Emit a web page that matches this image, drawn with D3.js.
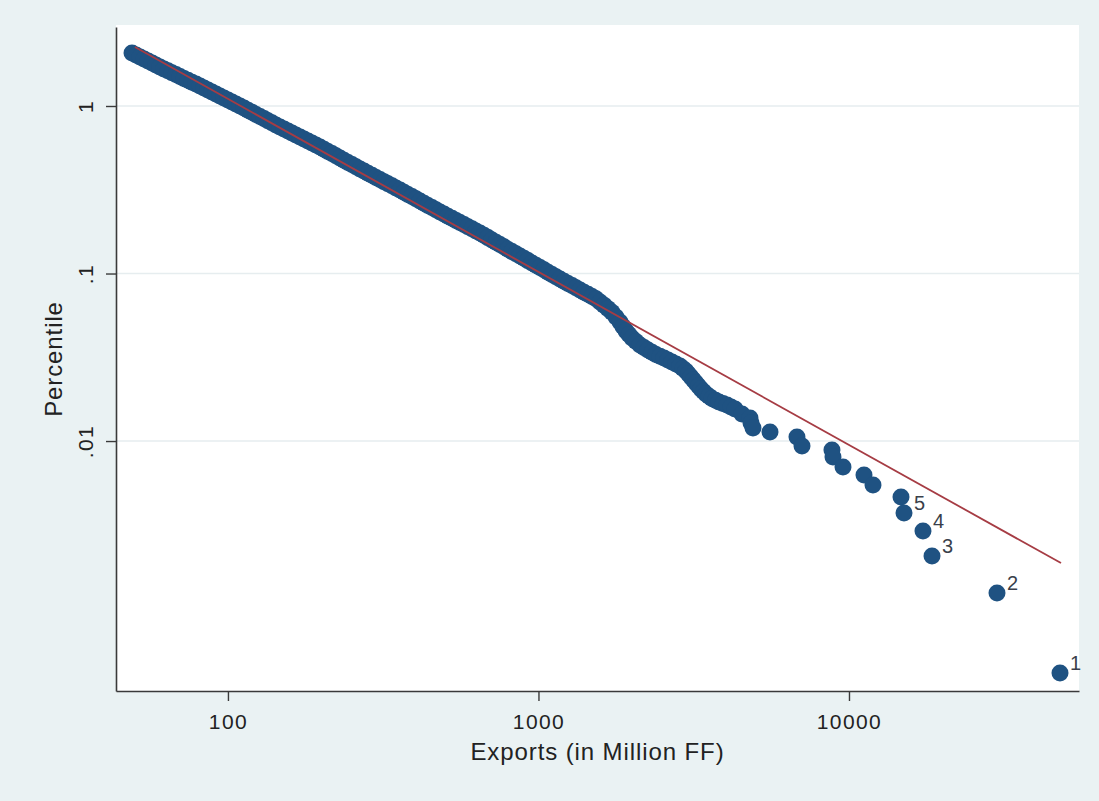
<!DOCTYPE html>
<html>
<head>
<meta charset="utf-8">
<script src="https://cdn.jsdelivr.net/npm/d3@7"></script>
<style>
  html, body { margin: 0; padding: 0; background: #eaf2f3; }
  svg { display: block; }
  text { font-family: "Liberation Sans", Arial, Helvetica, sans-serif; }
</style>
</head>
<body>
<svg id="chart" width="1099" height="801"></svg>
<script>
// Exports (million FF) and percentile of each plotted firm
const exportsX = [
  49.1, 50.58, 52.1, 53.67, 55.3, 56.96, 58.6, 60.36, 62.2, 64.07,
  66.0, 67.99, 70.05, 72.16, 74.3, 76.54, 78.9, 81.27, 83.7, 86.22,
  88.8, 91.47, 94.2, 97.04, 100, 103.0, 106.1, 109.3, 112.6, 116.0,
  119.5, 123.1, 126.8, 130.6, 134.5, 138.5, 142.7, 147.0, 151.5, 156.1,
  160.7, 165.5, 170.6, 175.7, 181.0, 186.4, 192.0, 197.8, 203.8, 209.9,
  216.2, 222.7, 229.4, 236.3, 243.5, 250.8, 258.4, 266.2, 274.2, 282.5,
  290.9, 299.7, 308.7, 318.0, 327.6, 337.5, 347.6, 358.1, 368.8, 379.9,
  391.3, 403.1, 415.3, 427.8, 440.6, 453.9, 467.6, 481.7, 496.1, 511.0,
  526.5, 542.4, 558.6, 575.4, 592.8, 610.6, 629.0, 647.9, 667.4, 687.5,
  708.2, 729.5, 751.5, 774.1, 797.4, 821.4, 846.2, 871.7, 897.9, 924.9,
  952.8, 981.5, 1011.2, 1041.7, 1073.0, 1105.3, 1138.5, 1172.8, 1208.2, 1244.6,
  1282.1, 1320.7, 1360.5, 1401.5, 1443.6, 1487.1, 1531.9, 1578.0, 1625.4, 1674.3,
  1724.8, 1776.7, 1830.2, 1871.4, 1913.5, 1956.5, 2000.4, 2060.6, 2122.6, 2186.5,
  2252.3, 2320, 2389.7, 2461.6, 2535.7, 2612.2, 2691.0, 2772, 2855.3, 2919.6,
  2985.3, 3041.2, 3098.1, 3156.1, 3215.1, 3275.2, 3336.4, 3398.9, 3462.5, 3540.4,
  3620.0, 3715.3, 3813.0, 3928.4, 4047.3, 4169.6, 4295.6, 4522,
  4799, 4835, 4907, 5567, 6800, 7058, 8815, 8881, 9565, 11178,
  11948, 14706, 15037, 17310, 18510, 29970, 47810
];
const percentileY = [
  2.072, 2.0157, 1.961, 1.9078, 1.856, 1.8058, 1.757, 1.7104, 1.665, 1.622,
  1.580, 1.5395, 1.500, 1.4615, 1.424, 1.387, 1.351, 1.3154, 1.2807, 1.2459,
  1.212, 1.1793, 1.1474, 1.1163, 1.086, 1.0566, 1.0279, 1.0, 0.9716, 0.9439,
  0.9170, 0.8910, 0.8656, 0.8409, 0.8170, 0.7937, 0.7712, 0.7498, 0.7290, 0.7092,
  0.6899, 0.6713, 0.6531, 0.6354, 0.6182, 0.6014, 0.5851, 0.5685, 0.5522, 0.5358,
  0.5198, 0.5043, 0.4893, 0.4747, 0.4606, 0.4469, 0.4335, 0.4206, 0.4086, 0.3970,
  0.3857, 0.3747, 0.3641, 0.3536, 0.3435, 0.3338, 0.3243, 0.3149, 0.3058, 0.2967,
  0.2878, 0.2792, 0.2709, 0.2628, 0.2551, 0.2475, 0.2401, 0.2331, 0.2263, 0.2198,
  0.2136, 0.2076, 0.2016, 0.1959, 0.1903, 0.1849, 0.1796, 0.1743, 0.1691, 0.1638,
  0.1587, 0.1538, 0.1490, 0.1443, 0.1398, 0.1355, 0.1313, 0.1271, 0.1232, 0.1194,
  0.1157, 0.1121, 0.1086, 0.1052, 0.1019, 0.09874, 0.09570, 0.09278, 0.08995, 0.08728,
  0.08469, 0.08216, 0.07972, 0.07741, 0.07516, 0.07284, 0.07062, 0.06763, 0.06476, 0.06172,
  0.0588, 0.05499, 0.05134, 0.04826, 0.04536, 0.04323, 0.0412, 0.03926, 0.03742, 0.03616,
  0.03494, 0.03387, 0.03284, 0.03206, 0.0313, 0.03045, 0.02962, 0.02882, 0.02804, 0.02709,
  0.02618, 0.02512, 0.0241, 0.02313, 0.0222, 0.0213, 0.02044, 0.01975, 0.01908, 0.0185,
  0.01794, 0.01751, 0.01709, 0.01674, 0.0164, 0.01596, 0.01553, 0.014495,
  0.01372, 0.012808, 0.011958, 0.011317, 0.010566, 0.009336, 0.008838, 0.008026, 0.006996, 0.006267,
  0.005462, 0.004631, 0.003717, 0.002902, 0.002058, 0.0012374, 0.000412
];
// labelled top firms (rank labels)
const labelText = ["1", "2", "3", "4", "5"];
const labelX = [47810, 29970, 18510, 17310, 15037];
const labelY = [0.000412, 0.0012374, 0.002058, 0.002902, 0.003717];
// fitted power-law line
const fitX = [50.17, 48170];
const fitY = [2.250, 0.001869];
// axes
const xTicks = [100, 1000, 10000];
const xTickLabels = ["100", "1000", "10000"];
const yTicks = [1, 0.1, 0.01];
const yTickLabels = ["1", ".1", ".01"];
const xTitle = "Exports (in Million FF)";
const yTitle = "Percentile";

const svg = d3.select("#chart");
const W = 1099, H = 801;
const plot = { left: 116, right: 1079, top: 27, bottom: 691 };

svg.append("rect").attr("x", 0).attr("y", 0).attr("width", W).attr("height", H).attr("fill", "#eaf2f3");
svg.append("rect")
  .attr("x", plot.left).attr("y", plot.top - 2)
  .attr("width", plot.right - plot.left).attr("height", plot.bottom - plot.top + 2)
  .attr("fill", "#ffffff");

const x = d3.scaleLog().domain([43.6, 55050]).range([plot.left, plot.right]);
const y = d3.scaleLog().domain([0.000322, 2.962]).range([plot.bottom, plot.top]);

// gridlines
svg.append("g").selectAll("line").data(yTicks).join("line")
  .attr("x1", plot.left).attr("x2", plot.right)
  .attr("y1", d => y(d)).attr("y2", d => y(d))
  .attr("stroke", "#e6edef").attr("stroke-width", 1.5);

// points
const pts = exportsX.map((v, i) => ({ x: v, y: percentileY[i] }));
svg.append("g").selectAll("circle").data(pts).join("circle")
  .attr("cx", d => x(d.x)).attr("cy", d => y(d.y)).attr("r", 8.5)
  .attr("fill", "#1f5282");

// fitted line
const line = d3.line().x(d => x(d[0])).y(d => y(d[1]));
svg.append("path")
  .datum(fitX.map((v, i) => [v, fitY[i]]))
  .attr("d", line).attr("fill", "none")
  .attr("stroke", "#a63c44").attr("stroke-width", 1.8);

// marker labels
svg.append("g").selectAll("text").data(labelText).join("text")
  .attr("x", (d, i) => x(labelX[i]) + 10)
  .attr("y", (d, i) => y(labelY[i]) - 3)
  .attr("font-size", 20).attr("fill", "#3a3f4a")
  .text(d => d);

// x axis
const xAxis = d3.axisBottom(x).tickValues(xTicks)
  .tickFormat((d, i) => xTickLabels[i]).tickSize(10).tickSizeOuter(0).tickPadding(13);
const gx = svg.append("g").attr("transform", `translate(0,${plot.bottom})`).call(xAxis);
gx.select(".domain").attr("stroke", "#3a3a3a").attr("stroke-width", 1.6);
gx.selectAll(".tick line").attr("stroke", "#3a3a3a").attr("stroke-width", 1.4);
gx.selectAll(".tick text").attr("font-size", 21).attr("fill", "#222")
  .attr("letter-spacing", 1.4)
  .attr("font-family", "'Liberation Sans', Arial, sans-serif");

// y axis
const yAxis = d3.axisLeft(y).tickValues(yTicks)
  .tickFormat((d, i) => yTickLabels[i]).tickSize(10).tickSizeOuter(0);
const gy = svg.append("g").attr("transform", `translate(${plot.left},0)`).call(yAxis);
gy.select(".domain").attr("stroke", "#3a3a3a").attr("stroke-width", 1.6);
gy.selectAll(".tick line").attr("stroke", "#3a3a3a").attr("stroke-width", 1.4);
gy.selectAll(".tick text")
  .attr("font-size", 21).attr("fill", "#222")
  .attr("letter-spacing", 1.4)
  .attr("font-family", "'Liberation Sans', Arial, sans-serif")
  .attr("x", null).attr("dy", null)
  .attr("text-anchor", "middle")
  .attr("transform", "translate(-23,0) rotate(-90)");

// titles
svg.append("text")
  .attr("x", (plot.left + plot.right) / 2).attr("y", 760)
  .attr("text-anchor", "middle").attr("font-size", 24).attr("fill", "#222")
  .attr("letter-spacing", 0.9)
  .text(xTitle);
svg.append("text")
  .attr("transform", `translate(62,${(plot.top + plot.bottom) / 2}) rotate(-90)`)
  .attr("text-anchor", "middle").attr("font-size", 24).attr("fill", "#222")
  .attr("letter-spacing", 0.9)
  .text(yTitle);
</script>
</body>
</html>
